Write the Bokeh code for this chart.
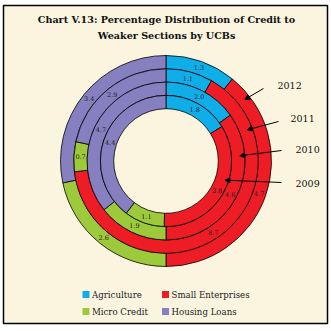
import numpy as np
from bokeh.plotting import figure
from bokeh.models import Range1d, Arrow, NormalHead, ColumnDataSource
from bokeh.core.properties import value
from bokeh.embed import file_html
from bokeh.resources import INLINE

# ---- data (rings from outer to inner) ----
years = ["2012", "2011", "2010", "2009"]
categories = ["Agriculture", "Small Enterprises", "Micro Credit", "Housing  Loans"]
agriculture = [1.3, 1.1, 2.0, 1.8]
small_enterprises = [4.7, 8.7, 4.6, 3.8]
micro_credit = [2.6, 0.7, 1.9, 1.1]
housing_loans = [3.4, 2.9, 4.7, 4.4]
colors = ["#10AEE8", "#EE1D25", "#9DCA3B", "#8680C0"]
title_lines = ["Chart V.13: Percentage Distribution of Credit to", "Weaker Sections by UCBs"]

W = H = 331
FONT = value("DejaVu Serif")

p = figure(width=W, height=H, output_backend="svg", toolbar_location=None,
           x_range=Range1d(0, W), y_range=Range1d(0, H),
           x_axis_type=None, y_axis_type=None, min_border=0,
           background_fill_color="white", border_fill_color="white")
p.outline_line_color = None
p.grid.visible = False

def Y(py):
    return H - py

# frame / panel
p.quad(left=3, right=327, top=Y(5), bottom=Y(323), fill_color="#FBF5E0",
       line_color="black", line_width=1.5)

# title
p.text(x=[166, 166], y=[Y(19), Y(35)], text=title_lines, text_font=FONT,
       text_font_size="9.6px", text_font_style="bold", text_align="center",
       text_baseline="middle", text_color="#111111")

# rings
cx, cy = 165.5, Y(160.5)
r_out = 105.5
ring_w = 13.3
series = [agriculture, small_enterprises, micro_credit, housing_loans]

wx, wy, inner, outer, starts, ends, fills = [], [], [], [], [], [], []
lx, ly, lt = [], [], []
for i, yr in enumerate(years):
    vals = np.array([s[i] for s in series], dtype=float)
    frac = np.concatenate([[0], np.cumsum(vals) / vals.sum()])
    ro = r_out - i * ring_w
    ri = ro - ring_w
    for k in range(4):
        t0, t1 = frac[k] * 2 * np.pi, frac[k + 1] * 2 * np.pi
        wx.append(cx); wy.append(cy)
        inner.append(ri); outer.append(ro)
        starts.append(np.pi / 2 - t0); ends.append(np.pi / 2 - t1)
        fills.append(colors[k])
        tm = (t0 + t1) / 2
        rm = (ri + ro) / 2
        lx.append(cx + rm * np.sin(tm)); ly.append(cy + rm * np.cos(tm))
        lt.append(f"{vals[k]:.1f}")

src = ColumnDataSource(dict(x=wx, y=wy, ri=inner, ro=outer, s=starts, e=ends, c=fills))
p.annular_wedge(x="x", y="y", inner_radius="ri", outer_radius="ro",
                start_angle="s", end_angle="e", direction="clock",
                fill_color="c", line_color="black", line_width=0.8, source=src)
p.text(x=lx, y=ly, text=lt, text_font=FONT, text_font_size="6.5px",
       text_align="center", text_baseline="middle", text_color="#222222")

# year labels with arrows
year_text_xy = [(277, 85), (290, 118), (295, 149), (295, 183)]
arrow_start = [(263, 88), (278, 121), (281, 150), (281, 182)]
tip_angle = [52, 69, 86, 108]
tip_r = [100, 87, 74, 62]
for j, yr in enumerate(years):
    tx, ty = year_text_xy[j]
    p.text(x=[tx], y=[Y(ty)], text=[yr], text_font=FONT, text_font_size="9.5px",
           text_align="left", text_baseline="middle", text_color="#111111")
    a = np.deg2rad(tip_angle[j])
    ex, ey = cx + tip_r[j] * np.sin(a), cy + tip_r[j] * np.cos(a)
    sx, sy = arrow_start[j]
    p.add_layout(Arrow(end=NormalHead(size=5, fill_color="black", line_color="black"),
                       x_start=sx, y_start=Y(sy), x_end=ex, y_end=ey,
                       line_color="black", line_width=1))

# legend
leg_xy = [(85.5, 294), (165, 294), (85.5, 311), (165, 311)]
for k, cat in enumerate(categories):
    lx0, ly0 = leg_xy[k]
    p.rect(x=[lx0], y=[Y(ly0)], width=7, height=7, fill_color=colors[k], line_color=None)
    p.text(x=[lx0 + 6], y=[Y(ly0)], text=[cat], text_font=FONT, text_font_size="8.6px",
           text_align="left", text_baseline="middle", text_color="#222222")

open("out.html", "w").write(file_html(p, INLINE))
